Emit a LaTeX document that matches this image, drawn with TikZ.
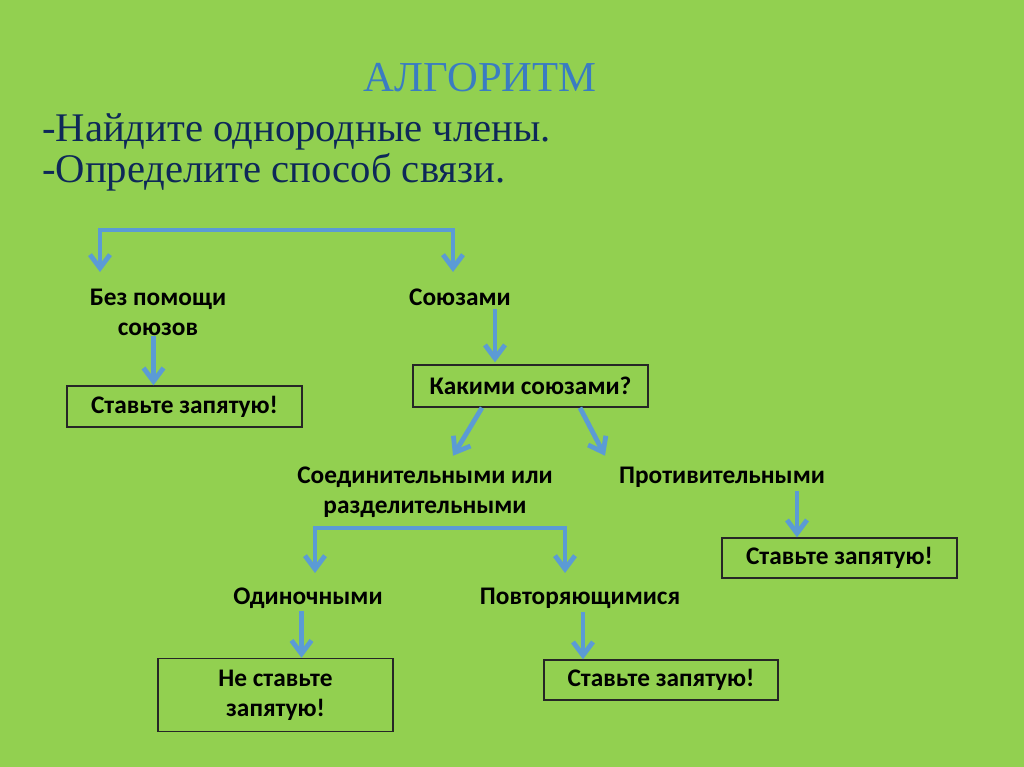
\documentclass[tikz,border=0pt]{standalone}
\usepackage{fontspec}
\setmainfont{Liberation Serif}
\newfontfamily\cbfont{Carlito}
\usetikzlibrary{arrows.meta,calc}
\definecolor{bg}{HTML}{92D050}
\definecolor{arrc}{HTML}{5B9BD5}
\definecolor{titc}{HTML}{3A7CC2}
\definecolor{navy}{HTML}{0E2858}
\tikzset{
  lbl/.style={font=\cbfont\bfseries\fontsize{19}{22.5}\selectfont, align=center, inner sep=0pt, text=black},
  bx/.style={draw=black!85, line width=1.1pt, inner sep=0pt, align=center},
  tip/.style={Straight Barb[length=10pt,width=15pt,line width=3.6pt]},
  arr/.style={draw=arrc, line width=3.6pt, -{Straight Barb[length=10pt,width=15pt,line width=3.6pt]}},
  arrb/.style={draw=arrc, line width=3.6pt, {Straight Barb[length=10pt,width=15pt,line width=3.6pt]}-{Straight Barb[length=10pt,width=15pt,line width=3.6pt]}},
}
\begin{document}
\begin{tikzpicture}[x=0.75pt,y=-0.75pt]
\fill[bg] (0,0) rectangle (1024,767);
\useasboundingbox (0,0) rectangle (1024,767);
% title
\node[font=\fontsize{32}{36}\selectfont, text=titc, anchor=base, inner sep=0pt] (title) at (480,92) {АЛГОРИТМ};
\node[font=\fontsize{30.5}{34}\selectfont, text=navy, anchor=base west, inner sep=0pt] (l1) at (42,142) {-Найдите однородные члены.};
\node[font=\fontsize{30.5}{34}\selectfont, text=navy, anchor=base west, inner sep=0pt] (l2) at (42,182) {-Определите способ связи.};
% level 1
\coordinate (t1) at (100,272);
\coordinate (t2) at (453,272);
\draw[arrb] (t1) -- (100,230) -- (453,230) -- (t2);
\node[lbl] (bez) at (158,312) {Без помощи\\союзов};
\node[lbl] (soyuz) at (460,297) {Союзами};
\node[bx, minimum width=235*0.75pt, minimum height=41*0.75pt, lbl] (box1) at (184.5,406.5) {Ставьте запятую!};
\node[bx, minimum width=235*0.75pt, minimum height=42*0.75pt, lbl] (kak) at (530.5,386) {Какими союзами?};
\draw[arr] ($(box1.north)+(-31,-49)$) -- ($(box1.north)+(-31,0)$);
\draw[arr] ($(kak.north)+(-35.5,-55)$) -- ($(kak.north)+(-35.5,-2)$);
% level 2
\node[lbl] (soed) at (425,492) {Соединительными или\\разделительными};
\node[lbl] (prot) at (722,477) {Противительными};
\draw[arr] ($(kak.south)+(-48.5,0)$) -- ($(kak.south)+(-77.5,48)$);
\draw[arr] ($(kak.south)+(49.5,0)$) -- ($(kak.south)+(74.5,48)$);
\node[bx, minimum width=235*0.75pt, minimum height=40*0.75pt, lbl] (box2) at (839.5,558) {Ставьте запятую!};
\draw[arr] ($(box2.north)+(-42.5,-46)$) -- ($(box2.north)+(-42.5,0)$);
% level 3
\coordinate (t3) at (315,573);
\coordinate (t4) at (565,573);
\draw[arrb] (t3) -- (315,528) -- (565,528) -- (t4);
\node[lbl] (odin) at (308,598) {Одиночными};
\node[lbl] (povt) at (580,598) {Повторяющимися};
\node[bx, minimum width=235*0.75pt, minimum height=73*0.75pt, lbl] (box3) at (275.5,695) {Не ставьте\\запятую!};
\node[bx, minimum width=234*0.75pt, minimum height=40*0.75pt, lbl] (box4) at (661,680) {Ставьте запятую!};
\draw[arr] ($(box3.north)+(26,-47)$) -- ($(box3.north)+(26,0)$);
\draw[arr] ($(box4.north)+(-78,-47)$) -- ($(box4.north)+(-78,0)$);
\end{tikzpicture}
\end{document}
